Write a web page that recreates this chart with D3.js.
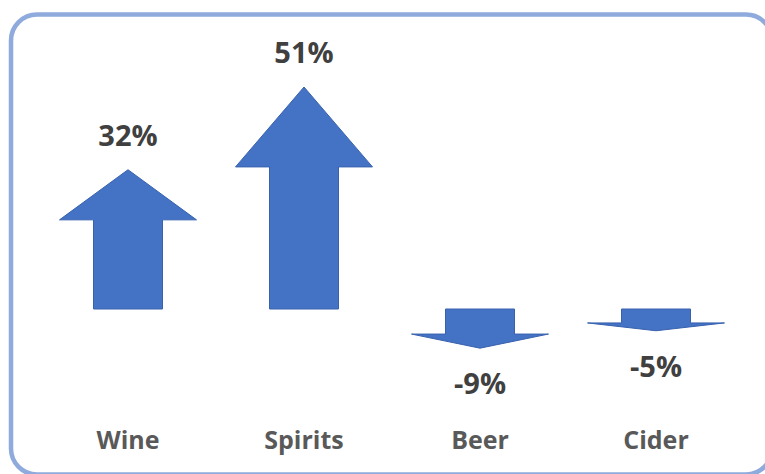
<!DOCTYPE html>
<html>
<head>
<meta charset="utf-8">
<script src="https://cdn.jsdelivr.net/npm/d3@7"></script>
<style>
  html, body { margin: 0; padding: 0; background: #ffffff; }
  svg { display: block; }
</style>
</head>
<body>
<svg id="chart" width="765" height="474"></svg>
<script>
// Year-on-year change by drink category (%)
const categories = ["Wine", "Spirits", "Beer", "Cider"];
const changes = [32, 51, -9, -5];
const valueLabels = ["32%", "51%", "-9%", "-5%"];

const W = 765, H = 474;
const svg = d3.select("#chart");

// Rounded frame (runs slightly past the right and bottom edges)
svg.append("rect")
  .attr("x", 11).attr("y", 14.5)
  .attr("width", 761).attr("height", 460)
  .attr("rx", 26).attr("ry", 26)
  .attr("fill", "#ffffff")
  .attr("stroke", "#8FAADC")
  .attr("stroke-width", 4.5);

const x = d3.scaleBand().domain(categories).range([40, 744]).padding(0);
const y = d3.scaleLinear().domain([0, 51]).range([309, 87]);

const shaftW = 69, headW = 137, headFrac = 0.36;

// Arrow path: shaft starts on the zero line, head points toward the value
function arrowPath(cat, v) {
  const cx = x(cat) + x.bandwidth() / 2;
  const y0 = y(0), yt = y(v);
  const len = yt - y0;               // signed length in px
  const yb = yt - len * headFrac;    // where the head meets the shaft
  const p = d3.path();
  p.moveTo(cx - shaftW / 2, y0);
  p.lineTo(cx - shaftW / 2, yb);
  p.lineTo(cx - headW / 2, yb);
  p.lineTo(cx, yt);
  p.lineTo(cx + headW / 2, yb);
  p.lineTo(cx + shaftW / 2, yb);
  p.lineTo(cx + shaftW / 2, y0);
  p.closePath();
  return p.toString();
}

const data = categories.map((c, i) => ({ c, v: changes[i], label: valueLabels[i] }));

svg.append("g").selectAll("path")
  .data(data)
  .join("path")
  .attr("d", d => arrowPath(d.c, d.v))
  .attr("fill", "#4472C4")
  .attr("stroke", "#3862AE")
  .attr("stroke-width", 1)
  .attr("stroke-linejoin", "miter");

const font = "'Segoe UI', 'Open Sans', 'Noto Sans', sans-serif";

// Value labels above rising arrows, below falling ones
svg.append("g").selectAll("text")
  .data(data)
  .join("text")
  .attr("x", d => x(d.c) + x.bandwidth() / 2)
  .attr("y", d => d.v >= 0 ? y(d.v) - 24 : y(d.v) + 46)
  .attr("text-anchor", "middle")
  .attr("font-family", font)
  .attr("font-weight", 700)
  .attr("font-size", 29)
  .attr("fill", "#404040")
  .text(d => d.label);

// Category names along the bottom
svg.append("g").selectAll("text")
  .data(categories)
  .join("text")
  .attr("x", d => x(d) + x.bandwidth() / 2)
  .attr("y", 449)
  .attr("text-anchor", "middle")
  .attr("font-family", font)
  .attr("font-weight", 700)
  .attr("font-size", 25)
  .attr("fill", "#595959")
  .text(d => d);
</script>
</body>
</html>
